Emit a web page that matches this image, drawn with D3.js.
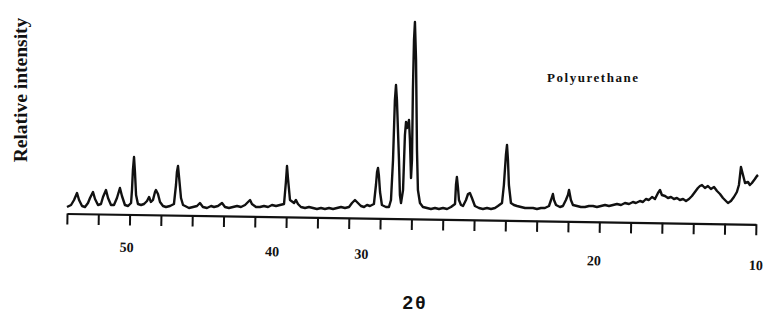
<!DOCTYPE html>
<html>
<head>
<meta charset="utf-8">
<script src="https://cdn.jsdelivr.net/npm/d3@7"></script>
<style>
	body { margin: 0; background: #fff; }
	svg { display: block; }
</style>
</head>
<body>
<div id="chart"></div>
<script>
// 2-theta (degrees) and relative intensity
const twoTheta = [
	54.00, 53.74, 53.55, 53.36, 53.23, 53.04, 52.85, 52.66, 52.53, 52.34, 52.21, 52.02, 51.83, 51.70, 51.51, 51.38,
	51.19, 51.00, 50.81, 50.62, 50.49, 50.30, 50.10,
	49.91, 49.85, 49.79, 49.72, 49.66, 49.59, 49.47,
	49.27, 49.08, 48.89, 48.76, 48.64, 48.51, 48.38, 48.32, 48.19, 48.06, 47.87, 47.68, 47.42,
	47.17, 47.04, 46.98, 46.91, 46.85, 46.72, 46.59,
	46.46, 46.21, 45.95, 45.70, 45.51, 45.32, 45.06, 44.80, 44.61, 44.36, 44.10, 43.91, 43.66, 43.40, 43.14, 42.89,
	42.63, 42.44, 42.31, 42.19, 41.93, 41.68, 41.42, 41.16, 40.91, 40.65, 40.40,
	40.14, 40.02, 39.95, 39.89, 39.76,
	39.50, 39.38, 39.25, 39.06,
	38.80, 38.55, 38.29, 38.04, 37.78, 37.53, 37.27, 37.01, 36.76, 36.50, 36.25, 35.99, 35.80, 35.61, 35.42, 35.23,
	35.03, 34.84, 34.65,
	34.40, 34.27, 34.20, 34.14, 34.08, 34.01, 33.89,
	33.63, 33.44, 33.31, 33.18, 33.06, 32.99, 32.93, 32.80, 32.74, 32.67, 32.54, 32.42, 32.35, 32.29, 32.22, 32.16,
	32.10, 32.03, 31.97, 31.91, 31.84, 31.78, 31.71, 31.65, 31.59, 31.46, 31.27, 31.01, 30.76, 30.50, 30.25, 29.99,
	29.73, 29.48,
	29.22, 29.16, 29.10, 29.03, 28.97, 28.84,
	28.71, 28.52, 28.39, 28.27, 28.14, 27.95, 27.69, 27.44, 27.18, 26.92, 26.67, 26.48,
	26.22, 26.10, 25.97, 25.90, 25.84, 25.78, 25.65,
	25.46, 25.26, 25.01, 24.75, 24.50, 24.24, 23.99, 23.73, 23.48, 23.22, 23.09, 22.97, 22.90, 22.77, 22.52, 22.33,
	22.14, 22.01, 21.94, 21.82, 21.69, 21.43, 21.18,
	20.92, 20.67, 20.41, 20.16, 19.90, 19.64, 19.39, 19.13, 18.88, 18.62, 18.37, 18.11, 17.86, 17.67, 17.41, 17.22,
	17.03, 16.84, 16.64, 16.45, 16.26, 16.13, 16.01, 15.81, 15.62, 15.43, 15.24, 15.05, 14.86, 14.66, 14.47, 14.28,
	14.09, 13.90, 13.71, 13.58, 13.45, 13.26, 13.07, 12.88, 12.68, 12.49, 12.30, 12.11, 11.92, 11.79, 11.60, 11.41,
	11.22, 11.09, 10.96, 10.83, 10.70, 10.51, 10.39, 10.26, 10.07, 9.94, 9.87
];
const intensity = [
	3, 5, 10, 17, 10, 4, 3, 7, 12, 18, 11, 5, 6, 13, 20, 12,
	5, 5, 12, 22, 14, 5, 4,
	7, 20, 40, 53, 38, 15, 6,
	5, 6, 9, 13, 8, 10, 18, 20, 16, 8, 4, 3, 4,
	6, 25, 38, 44, 34, 12, 5,
	4, 2, 3, 4, 7, 3, 2, 4, 3, 4, 7, 3, 2, 3, 4, 3,
	5, 8, 10, 6, 3, 3, 4, 3, 5, 4, 5,
	6, 28, 44, 32, 10,
	7, 10, 6, 3,
	2, 3, 2, 1, 2, 1, 2, 1, 2, 3, 2, 3, 7, 10, 7, 4,
	3, 5, 4,
	6, 25, 38, 42, 34, 18, 5,
	3, 3, 10, 50, 110, 125, 110, 50, 15, 7, 20, 75, 88, 82, 85, 90,
	70, 32, 50, 120, 170, 188, 150, 60, 20, 7, 3, 2, 1, 2, 1, 2,
	1, 3,
	6, 25, 33, 22, 10, 5,
	4, 10, 16, 17, 12, 4, 2, 1, 2, 1, 2, 4,
	7, 25, 55, 65, 50, 25, 7,
	5, 4, 3, 2, 2, 2, 1, 2, 2, 4, 10, 16, 10, 5, 3, 4,
	10, 15, 20, 10, 5, 4, 3,
	3, 4, 4, 3, 4, 5, 4, 5, 6, 5, 7, 6, 8, 7, 9, 8,
	11, 10, 13, 11, 17, 20, 15, 14, 12, 13, 11, 12, 10, 11, 9, 11,
	14, 18, 22, 24, 25, 22, 24, 21, 23, 19, 16, 12, 9, 7, 9, 13,
	18, 25, 43, 35, 27, 28, 25, 27, 31, 34, 35
];

const tickMarks = [54, 52, 50, 48, 46, 44, 42, 40, 38, 36, 34, 32, 30, 28, 26, 24, 22, 20, 18, 16, 14, 12, 10];
// where the printed labels sit along the axis (the scan places them unevenly)
const labelAt = [50.2, 40.9, 35.2, 20.35, 10.0];
const labelText = ["50", "40", "30", "20", "10"];

const width = 763;
const height = 325;

const data = twoTheta.map((t, i) => [t, intensity[i]]);

const svg = d3.select("#chart")
	.append("svg")
	.attr("width", width)
	.attr("height", height);

const xScale = d3.scaleLinear().domain([54, 10]).range([67, 756]);
const yScale = d3.scaleLinear().domain([0, 190]).range([210, 20]);

// pattern
const line = d3.line()
	.x((d) => xScale(d[0]))
	.y((d) => yScale(d[1]));

svg.append("path")
	.datum(data)
	.attr("d", line)
	.attr("fill", "none")
	.attr("stroke", "#111")
	.attr("stroke-width", 2.4)
	.attr("stroke-linejoin", "round");

// axis, slightly skewed like the scan
const xAxis = d3.axisBottom(xScale)
	.tickValues(tickMarks)
	.tickFormat("")
	.tickSize(11)
	.tickSizeOuter(0);

const axisG = svg.append("g")
	.attr("transform", "translate(0,213.5) rotate(0.9,67,0)")
	.call(xAxis);
axisG.select(".domain").attr("stroke", "#111").attr("stroke-width", 2.2);
axisG.selectAll(".tick line").attr("stroke", "#111").attr("stroke-width", 2);

const labelG = svg.append("g")
	.attr("transform", "translate(0,252) rotate(1.64,127,0)");
labelG.selectAll("text")
	.data(labelAt)
	.enter()
	.append("text")
	.attr("x", (d) => xScale(d))
	.attr("y", 0)
	.attr("text-anchor", "middle")
	.attr("font-family", "'Liberation Serif', serif")
	.attr("font-weight", "bold")
	.attr("font-size", 14)
	.attr("fill", "#111")
	.text((d, i) => labelText[i]);

// titles
svg.append("text")
	.attr("transform", "translate(27,90) rotate(-90)")
	.attr("text-anchor", "middle")
	.attr("font-family", "'Liberation Serif', serif")
	.attr("font-weight", "bold")
	.attr("font-size", 19.5)
	.attr("fill", "#111")
	.text("Relative intensity");

svg.append("text")
	.attr("x", 415)
	.attr("y", 309)
	.attr("text-anchor", "middle")
	.attr("font-family", "'Liberation Sans', sans-serif")
	.attr("font-weight", "bold")
	.attr("font-size", 19)
	.attr("letter-spacing", 2)
	.attr("fill", "#111")
	.text("2θ");

svg.append("text")
	.attr("x", 547)
	.attr("y", 82)
	.attr("font-family", "'Liberation Serif', serif")
	.attr("font-weight", "bold")
	.attr("font-size", 13)
	.attr("textLength", 91)
	.attr("lengthAdjust", "spacing")
	.attr("fill", "#111")
	.text("Polyurethane");
</script>
</body>
</html>
